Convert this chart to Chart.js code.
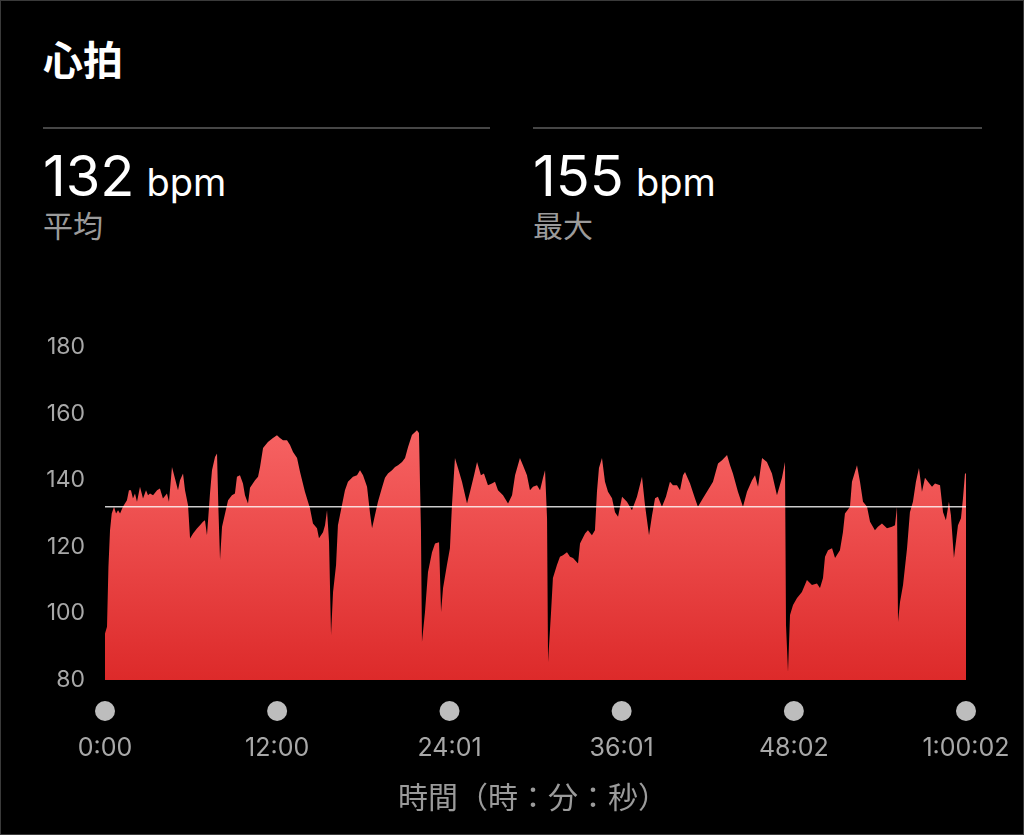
<!DOCTYPE html>
<html><head><meta charset="utf-8">
<script src="https://cdn.jsdelivr.net/npm/chart.js@4.4.1/dist/chart.umd.min.js"></script>
<style>
html,body{margin:0;padding:0;background:#000;width:1024px;height:835px;overflow:hidden;}
#wrap{position:relative;width:1024px;height:835px;background:#000;}
#frame{position:absolute;left:0;top:0;width:1024px;height:835px;box-sizing:border-box;border:1px solid #3a3a3a;pointer-events:none;}
.t{position:absolute;white-space:nowrap;line-height:1;font-family:Inter,"Noto Sans CJK JP",sans-serif;}
#title{left:43px;top:38px;font-size:40px;font-weight:700;color:#fff;font-family:"Noto Sans CJK JP",sans-serif;}
.rule{position:absolute;top:127px;height:2px;background:#464646;}
.big{top:148px;font-size:56px;color:#fff;}
.big .u{font-size:38px;margin-left:12px;}
.lab{top:209px;font-size:30px;color:#9b9b9b;font-family:"Noto Sans CJK JP",sans-serif;}
#xtitle{left:0;width:1066px;text-align:center;top:780px;font-size:30px;color:#9b9b9b;font-family:"Noto Sans CJK JP",sans-serif;}
canvas{position:absolute;left:0;top:0;}
</style></head>
<body><div id="wrap">
<div class="t" id="title">心拍</div>
<div class="rule" style="left:43px;width:447px"></div>
<div class="rule" style="left:533px;width:449px"></div>
<div class="t big" style="left:43px"><span id="avgTxt"></span><span class="u">bpm</span></div>
<div class="t big" style="left:533px"><span id="maxTxt"></span><span class="u">bpm</span></div>
<div class="t lab" style="left:43px">平均</div>
<div class="t lab" style="left:533px">最大</div>
<canvas id="c" width="1024" height="835"></canvas>
<div class="t" id="xtitle">時間（時：分：秒）</div>
<div id="frame"></div>
</div>
<script>
// elapsed time in minutes
const times = [
0.00,0.14,0.24,0.35,0.47,0.63,0.77,0.91,1.05,1.25,
1.53,1.67,1.81,1.95,2.09,2.23,2.44,2.65,2.86,3.00,
3.14,3.35,3.63,3.83,4.04,4.32,4.46,4.67,4.88,5.09,
5.23,5.44,5.58,5.79,5.93,6.14,6.41,6.62,6.83,6.97,
7.11,7.32,7.46,7.67,7.81,7.91,8.02,8.16,8.37,8.58,
8.85,9.06,9.20,9.41,9.62,9.76,9.97,10.11,10.46,10.67,
10.81,11.02,11.36,11.71,11.99,12.20,12.41,12.69,12.90,13.11,
13.39,13.60,13.94,14.29,14.50,14.78,14.92,15.20,15.34,15.48,
15.62,15.76,15.90,16.11,16.24,16.52,16.73,16.94,17.29,17.57,
17.78,17.99,18.27,18.48,18.62,18.82,19.03,19.31,19.52,19.73,
20.01,20.22,20.43,20.71,20.92,21.13,21.40,21.75,21.89,22.03,
22.10,22.31,22.52,22.80,23.01,23.29,23.43,23.57,23.84,24.05,
24.19,24.40,24.61,24.89,25.24,25.45,25.73,25.94,26.21,26.42,
26.70,26.98,27.19,27.40,27.75,28.10,28.38,28.59,28.93,29.14,
29.42,29.63,29.84,30.12,30.33,30.54,30.68,30.82,30.89,31.10,
31.23,31.51,31.72,31.93,32.21,32.42,32.63,32.98,33.12,33.47,
33.67,33.95,34.16,34.30,34.44,34.65,34.86,35.07,35.35,35.56,
35.77,36.05,36.39,36.74,37.09,37.44,37.65,37.93,38.14,38.35,
38.55,38.83,39.11,39.39,39.60,39.88,40.09,40.30,40.44,40.79,
41.13,41.34,41.69,42.18,42.39,42.74,43.02,43.37,43.58,43.78,
44.13,44.48,44.76,45.11,45.32,45.53,45.81,46.15,46.50,46.85,
47.20,47.41,47.48,47.62,47.76,47.97,48.25,48.59,48.94,49.29,
49.64,49.85,50.06,50.20,50.41,50.69,50.90,51.24,51.45,51.59,
51.94,52.08,52.43,52.64,52.85,53.13,53.34,53.68,53.89,54.17,
54.52,54.87,55.08,55.22,55.29,55.43,55.64,55.92,56.12,56.33,
56.54,56.75,56.96,57.17,57.38,57.66,57.87,58.22,58.43,58.63,
58.84,58.98,59.19,59.47,59.68,59.82,59.96,60.03];
// heart rate (bpm)
const bpm = [
94,96,114,125,130,132,130,131,130,132,
134,137,137,134.5,136,133.5,138,134.5,137,135.5,
136,135.5,137,137.5,134.5,136,133.5,144,140.5,137,
140,142,137,132.5,122.5,124,125.5,126.5,127.5,128,
123.5,136,143,147,148,131,116,126,130,134,
135.5,136,141,141.5,139,135.5,133,137.7,140,141,
144,149.7,151.5,152.7,153.5,152.7,152,152,150.6,148.5,
146.7,142.5,136.5,131.6,127,125.6,122.6,124.4,126.5,131,
121.5,93.5,106.4,114.5,126.5,132.5,137,139.5,141,141.5,
143,141.5,138,130,125.6,129.5,133.5,137.7,140.7,142,
143,144,144.5,145.5,146.7,150,153.6,155,154.2,125,
91.4,100.4,112.4,118.4,121,121.4,100.4,107.6,114.5,119.6,
132.5,146.7,143.7,139.5,133,136.5,141.5,145.5,141.5,142,
138.5,139,139.5,137,135.5,133,135.5,141.5,146.7,144.5,
141.5,137,138,138.5,137,140.7,143,128.6,85.4,100.4,
110.6,114.5,117,117.5,118.4,117,116.6,115,121,124,
125,123.5,125,136.5,143.7,146.7,139.5,136.5,134.6,130.4,
129,135,133.5,131,135,141,132.5,123.5,129.5,134.6,
135,132,135,139.5,138.5,138.5,137,141.5,142.5,139,
134.6,132,134.6,138,139.5,145,146,147.6,144.5,142,
136.5,132,136.5,140,141.5,138,146.7,145.5,142,135.5,
140.7,145.5,96.5,82.4,99.5,102.5,104.6,106.4,110,108.5,
109,107.6,110.6,117,119,119.6,116.6,119,124.4,130,
132,139.5,144.5,139.5,133.5,132,127.5,125,126,127,
125.6,126,126.5,132,97.4,103.4,108.5,119.6,130.4,133.5,
139.5,143.7,136.5,140.7,139.5,138,139,138.5,130.4,128,
133.5,129.5,116.6,126.5,128.6,134.6,142,142];
const avgBpm = 132;
const maxBpm = 155;
const tickMinutes = [0, 12.0, 24.02, 36.02, 48.03, 60.03];
const tickLabels = ["0:00", "12:00", "24:01", "36:01", "48:02", "1:00:02"];
const yMin = 80, yMax = 180, yStep = 20;

document.getElementById('avgTxt').textContent = avgBpm;
document.getElementById('maxTxt').textContent = maxBpm;

const hrPoints = times.map((t, i) => ({x: t, y: bpm[i]}));
const avgPoints = [{x: tickMinutes[0], y: avgBpm}, {x: tickMinutes[tickMinutes.length - 1], y: avgBpm}];

const dotPlugin = {
  id: 'dots',
  afterDraw(chart) {
    const xs = chart.scales.x, ctx = chart.ctx;
    ctx.save();
    ctx.fillStyle = '#bdbdbd';
    xs.ticks.forEach(t => {
      const px = xs.getPixelForValue(t.value);
      ctx.beginPath();
      ctx.arc(px, chart.chartArea.bottom + 31, 10, 0, Math.PI * 2);
      ctx.fill();
    });
    ctx.restore();
  }
};

new Chart(document.getElementById('c'), {
  type: 'line',
  data: {
    datasets: [
      {
        data: avgPoints, order: 0,
        borderColor: 'rgba(255,255,255,0.8)', borderWidth: 1.5,
        pointRadius: 0, fill: false
      },
      {
        data: hrPoints, order: 1,
        borderWidth: 0, pointRadius: 0, tension: 0,
        fill: 'start',
        backgroundColor: (ctx) => {
          const ca = ctx.chart.chartArea;
          if (!ca) return '#ee4444';
          const g = ctx.chart.ctx.createLinearGradient(0, ca.top, 0, ca.bottom);
          g.addColorStop(0, 'rgb(255,118,118)');
          g.addColorStop(1, 'rgb(221,42,42)');
          return g;
        }
      }
    ]
  },
  options: {
    responsive: false, animation: false,
    layout: {padding: {top: 347, right: 58, left: 0, bottom: 0}},
    plugins: {legend: {display: false}, tooltip: {enabled: false}},
    scales: {
      x: {
        type: 'linear', min: tickMinutes[0], max: tickMinutes[tickMinutes.length - 1],
        afterBuildTicks: (s) => { s.ticks = tickMinutes.map(v => ({value: v})); },
        afterFit: (s) => { s.height = 155; s.paddingLeft = 0; s.paddingRight = 0; },
        grid: {display: false, drawTicks: false}, border: {display: false},
        ticks: {
          autoSkip: false, maxRotation: 0, padding: 53,
          color: '#a8a8a8', font: {family: 'Inter', size: 25},
          callback: (v, i) => tickLabels[i]
        }
      },
      y: {
        min: yMin, max: yMax,
        afterFit: (s) => { s.width = 105; },
        grid: {display: false, drawTicks: false}, border: {display: false},
        ticks: {stepSize: yStep, padding: 20, color: '#a8a8a8', font: {family: 'Inter', size: 23}}
      }
    }
  },
  plugins: [dotPlugin]
});
</script>
</body></html>
